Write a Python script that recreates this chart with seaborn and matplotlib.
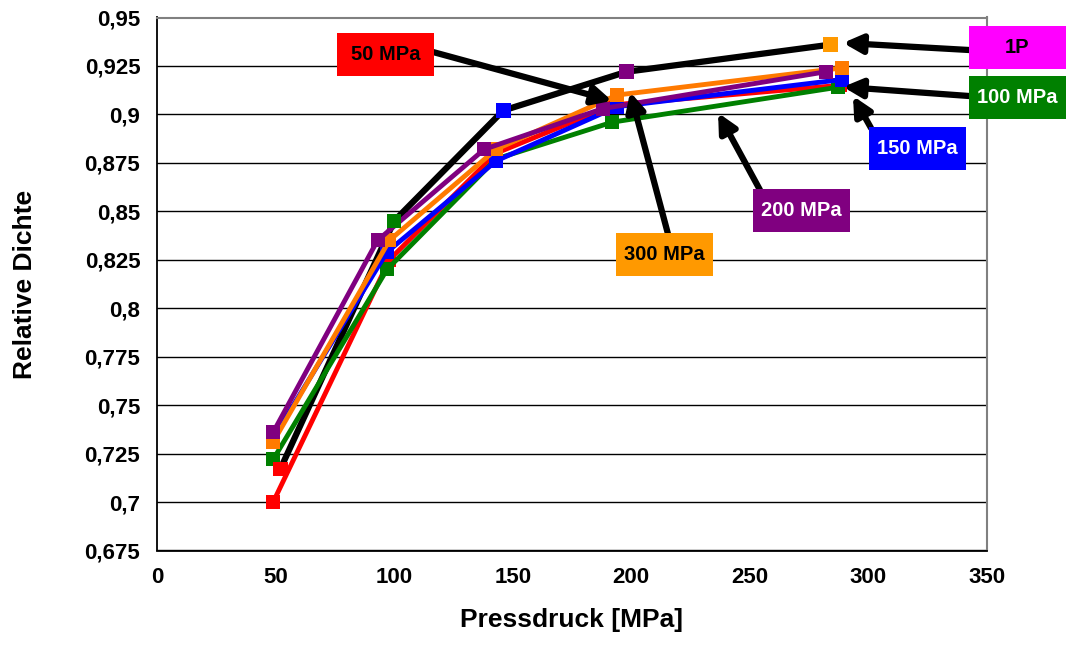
import numpy as np
import pandas as pd
import matplotlib
matplotlib.use('Agg')
import matplotlib.pyplot as plt
import seaborn as sns
from matplotlib.ticker import FuncFormatter, MultipleLocator
from matplotlib.patches import Rectangle

# Pressdruck [MPa] / relative Dichte
p_1p = [52, 100, 146, 198, 284]
d_1p = [0.717, 0.845, 0.902, 0.922, 0.936]
p_50 = [49, 98, 143, 193, 288]
d_50 = [0.700, 0.825, 0.880, 0.905, 0.915]
p_100 = [49, 97, 143, 192, 287]
d_100 = [0.722, 0.820, 0.877, 0.896, 0.914]
p_150 = [49, 97, 143, 194, 289]
d_150 = [0.733, 0.829, 0.876, 0.904, 0.918]
p_300 = [49, 98, 143, 194, 289]
d_300 = [0.731, 0.835, 0.882, 0.910, 0.924]
p_200 = [49, 93, 138, 188, 282]
d_200 = [0.736, 0.835, 0.882, 0.903, 0.922]

series_names = ['50 MPa', '100 MPa', '150 MPa', '300 MPa', '200 MPa']
series_p = [p_50, p_100, p_150, p_300, p_200]
series_d = [d_50, d_100, d_150, d_300, d_200]
series_colors = ['#FF0000', '#008000', '#0000FF', '#FF7A00', '#800080']
point_colors_1p = ['#FF0000', '#008000', '#0000FF', '#800080', '#FF9900']

sns.set_theme(style='white')
plt.rcParams['font.family'] = ['Liberation Sans', 'DejaVu Sans']
plt.rcParams['font.weight'] = 'bold'
plt.rcParams['text.color'] = 'black'
plt.rcParams['axes.labelcolor'] = 'black'
plt.rcParams['xtick.color'] = 'black'
plt.rcParams['ytick.color'] = 'black'

W, H = 1066, 646
fig = plt.figure(figsize=(W / 100, H / 100), dpi=100)
ax = fig.add_axes([157 / W, 1 - 550.5 / H, 830 / W, 533 / H])

# 1P line (black) with coloured markers
df_1p = pd.DataFrame({'p': p_1p, 'd': d_1p, 'pt': range(len(p_1p))})
sns.lineplot(data=df_1p, x='p', y='d', sort=False, color='black', lw=4.5, ax=ax, zorder=3)

for name, px, dy, col in zip(series_names, series_p, series_d, series_colors):
    df = pd.DataFrame({'p': px, 'd': dy})
    sns.lineplot(data=df, x='p', y='d', sort=False, color=col, lw=3.5, marker='s',
                 markersize=10.5, markeredgewidth=0, ax=ax, zorder=4)

sns.scatterplot(data=df_1p, x='p', y='d', hue='pt', palette=point_colors_1p, marker='s',
                s=112, linewidth=0, legend=False, ax=ax, zorder=5)

ax.set_xlim(0, 350)
ax.set_ylim(0.675, 0.95)
ax.xaxis.set_major_locator(MultipleLocator(50))
ax.yaxis.set_major_locator(MultipleLocator(0.025))
ax.yaxis.set_major_formatter(FuncFormatter(lambda v, pos: ('%g' % round(v, 3)).replace('.', ',')))
ax.yaxis.grid(True, color='black', lw=1.0)
ax.xaxis.grid(False)
ax.tick_params(axis='both', which='major', direction='out', length=6, width=1.2,
               color='black', labelcolor='black', labelsize=16, pad=6)
for lab in ax.get_xticklabels() + ax.get_yticklabels():
    lab.set_fontweight('bold')
for side in ['left', 'bottom']:
    ax.spines[side].set_color('black')
    ax.spines[side].set_linewidth(1.3)
for side in ['top', 'right']:
    ax.spines[side].set_color('#808080')
    ax.spines[side].set_linewidth(1.5)

ax.set_xlabel('Pressdruck [MPa]', fontsize=19, fontweight='bold', labelpad=14, color='black')
ax.set_ylabel('Relative Dichte', fontsize=19, fontweight='bold', labelpad=0, color='black')
ax.yaxis.set_label_coords(-120 / 830, 0.5)

# label boxes: (text, box colour, text colour, box left, top, arrow start px, arrow tip in data)
labels = [
    ('50 MPa', '#FF0000', 'black', 337, 33, (433, 52), (191.9, 0.907)),
    ('1P', '#FF00FF', 'black', 969, 26, (969, 50), (289.3, 0.9369)),
    ('100 MPa', '#008000', 'white', 969, 76, (969, 96), (289.3, 0.9142)),
    ('150 MPa', '#0000FF', 'white', 869, 127, (871, 128), (293.5, 0.9095)),
    ('200 MPa', '#800080', 'white', 753, 189, (760, 190), (236.6, 0.9008)),
    ('300 MPa', '#FF9900', 'black', 616, 233, (668, 234), (199.5, 0.9116)),
]
for txt, bcol, tcol, bx, by, start, tip in labels:
    bw, bh = 97, 43
    fig.add_artist(Rectangle((bx / W, 1 - (by + bh) / H), bw / W, bh / H,
                             transform=fig.transFigure, facecolor=bcol, edgecolor='none', zorder=6))
    fig.text((bx + bw / 2) / W, 1 - (by + bh / 2) / H, txt, color=tcol, fontsize=14.5,
             fontweight='bold', ha='center', va='center', zorder=7)
    ax.annotate('', xy=tip, xycoords='data', xytext=(start[0], H - start[1]),
                textcoords='figure pixels', annotation_clip=False, zorder=8,
                arrowprops=dict(arrowstyle='-|>', lw=4.5, color='black', mutation_scale=28,
                                shrinkA=0, shrinkB=0))

plt.savefig('out.png', dpi=100)
print('saved out.png')
